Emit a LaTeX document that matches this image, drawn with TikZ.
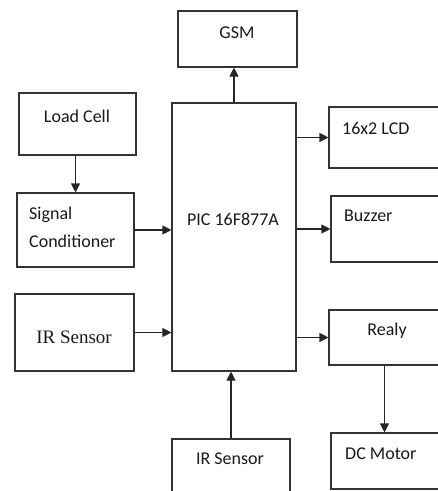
\documentclass[tikz,border=0pt]{standalone}
\usepackage{fontspec}
\setmainfont{Carlito}
\newfontfamily\timesfont{Liberation Serif}
\usetikzlibrary{arrows.meta}
\tikzset{block/.style={draw=black!80, line width=1.1pt, inner sep=0pt}}
\tikzset{lbl/.style={inner sep=0pt, text=black!90, font=\fontsize{18}{28}\selectfont}}
\tikzset{link/.style={draw=black!85, line width=1.1pt, -{Triangle[length=9pt,width=9pt]}}}

\begin{document}
\begin{tikzpicture}[x=1pt,y=-1pt]
  \clip (0,0) rectangle (438,491);
  \foreach \x/\y/\w/\h/\lab in {
    237.5/39/119/56/gsm,
    77.5/124/117/62/load,
    234/237/124/268/pic,
    384.5/137.5/111/61/lcd,
    75.5/230/117/74/signal,
    385.5/229/109/66/buzzer,
    74.5/332.5/119/77/irl,
    384.5/337.5/111/55/realy,
    385.5/461/109/56/motor,
    231/467/118/56/irb%
  } {
    \node[block, minimum width=\w pt, minimum height=\h pt] (\lab) at (\x, \y) {};
  }
  % labels
  \node[lbl] (gsm-t) at (237, 33) {GSM};
  \node[lbl] (load-t) at (77, 116) {Load Cell};
  \node[lbl] (pic-t) at (233, 219) {PIC 16F877A};
  \node[lbl, anchor=west] (lcd-t) at (342, 128) {16x2 LCD};
  \node[lbl, anchor=west, align=left] (signal-t) at (29, 227) {Signal\\Conditioner};
  \node[lbl, anchor=west] (buzzer-t) at (344, 216) {Buzzer};
  \node[lbl, font=\timesfont\fontsize{19}{20}\selectfont] (irl-t) at (74, 337) {IR Sensor};
  \node[lbl] (realy-t) at (387, 331) {Realy};
  \node[lbl, anchor=west] (motor-t) at (345, 454) {DC Motor};
  \node[lbl] (irb-t) at (230, 459) {IR Sensor};
  % connectors
  \draw[link] (pic.north) -- (pic.north |- gsm.south);
  \draw[link] (load.south -| signal.north) -- (signal.north);
  \draw[link] (signal.east) -- (signal.east -| pic.west);
  \draw[link] (irl.east) -- (irl.east -| pic.west);
  \draw[link] (pic.east |- lcd.west) -- (lcd.west);
  \draw[link] (pic.east |- buzzer.west) -- (buzzer.west);
  \draw[link] (pic.east |- realy.west) -- (realy.west);
  \draw[link] (irb.north) -- (irb.north |- pic.south);
  \draw[link] (realy.south) -- (realy.south |- motor.north);
\end{tikzpicture}
\end{document}
